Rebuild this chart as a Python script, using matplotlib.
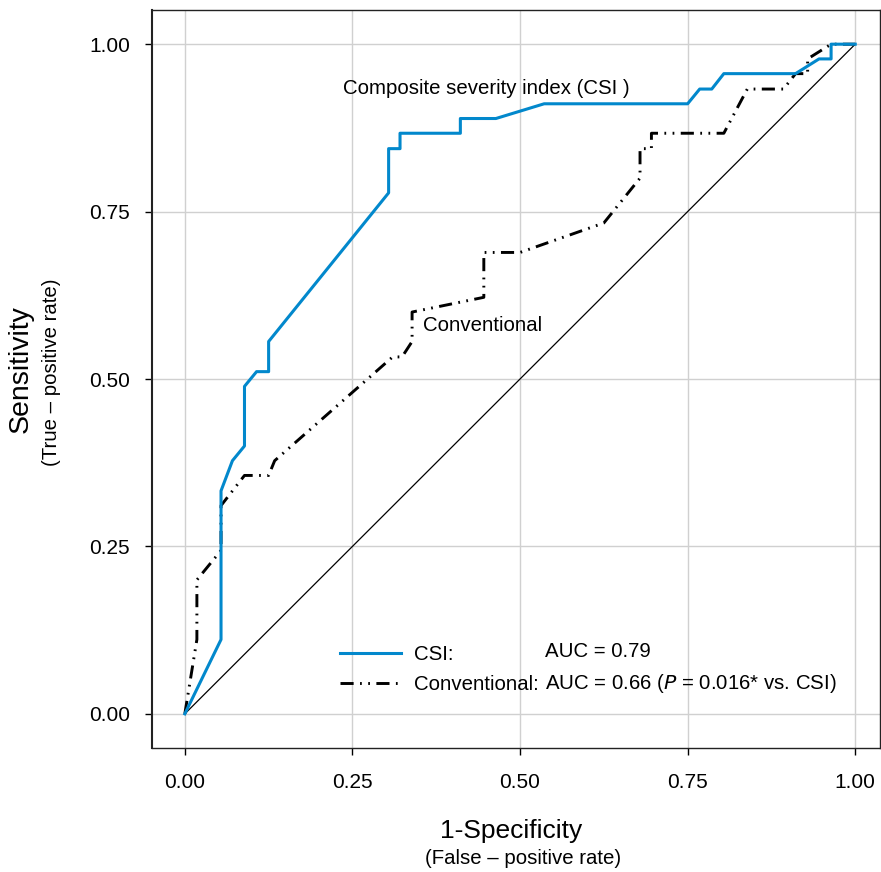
import matplotlib
matplotlib.use("Agg")
import matplotlib.pyplot as plt

plt.rcParams['font.family'] = ['Liberation Sans', 'DejaVu Sans']

# ROC data (1-specificity, sensitivity)
csi_fpr = [0.0, 0.054, 0.054, 0.071, 0.089, 0.089, 0.107, 0.125, 0.125, 0.304, 0.304,
           0.321, 0.321, 0.411, 0.411, 0.464, 0.536, 0.750, 0.768, 0.786, 0.804, 0.911,
           0.946, 0.964, 0.964, 1.0]
csi_tpr = [0.0, 0.111, 0.333, 0.378, 0.400, 0.489, 0.511, 0.511, 0.556, 0.778, 0.844,
           0.844, 0.867, 0.867, 0.889, 0.889, 0.911, 0.911, 0.933, 0.933, 0.956, 0.956,
           0.978, 0.978, 1.0, 1.0]

conv_fpr = [0.0, 0.018, 0.018, 0.054, 0.054, 0.089, 0.125, 0.134, 0.310, 0.324, 0.339,
            0.339, 0.446, 0.446, 0.500, 0.625, 0.679, 0.679, 0.696, 0.696, 0.804, 0.839,
            0.893, 0.911, 0.929, 0.929, 0.964, 1.0]
conv_tpr = [0.0, 0.111, 0.200, 0.244, 0.311, 0.356, 0.356, 0.378, 0.533, 0.533, 0.556,
            0.600, 0.622, 0.689, 0.689, 0.733, 0.800, 0.844, 0.844, 0.867, 0.867, 0.933,
            0.933, 0.956, 0.956, 0.978, 1.0, 1.0]

ticks = [0.0, 0.25, 0.5, 0.75, 1.0]
tick_labels = ['0.00', '0.25', '0.50', '0.75', '1.00']

fig = plt.figure(figsize=(8.81, 8.72), dpi=100)
ax = fig.add_axes([0.1725, 0.1422, 0.8264, 0.8463])

ax.plot([0, 1], [0, 1], color='black', lw=0.9)
ax.plot(conv_fpr, conv_tpr, color='black', lw=2.1,
        linestyle=(0, (4.5, 2.2, 0.6, 2.2, 0.6, 2.2)), label='Conventional:')
ax.plot(csi_fpr, csi_tpr, color='#0288cc', lw=2.2, label='CSI:')

ax.set_xlim(-0.049, 1.037)
ax.set_ylim(-0.051, 1.051)
ax.set_xticks(ticks)
ax.set_xticklabels(tick_labels)
ax.set_yticks(ticks)
ax.set_yticklabels(tick_labels)
ax.tick_params(labelsize=15, length=5, width=1, direction='out')
ax.tick_params(axis='x', pad=13)
ax.tick_params(axis='y', pad=11)
ax.grid(True, color='#d0d0d0', lw=1)
ax.set_axisbelow(True)
for s in ax.spines.values():
    s.set_linewidth(1)
    s.set_color('#222222')
ax.spines['left'].set_linewidth(1.5)

fs = 14.7
ax.text(0.236, 0.934, 'Composite severity index (CSI )', fontsize=fs, va='center')
ax.text(0.355, 0.58, 'Conventional', fontsize=fs, va='center')

handles, labels = ax.get_legend_handles_labels()
leg = ax.legend(handles[::-1], labels[::-1], loc='lower left', bbox_to_anchor=(0.258, 0.073),
                frameon=False, fontsize=fs, handlelength=3.0, handletextpad=0.62,
                labelspacing=0.53, borderaxespad=0, borderpad=0)
ax.text(0.537, 0.0925, 'AUC = 0.79', fontsize=fs, va='center')
ax.text(0.537, 0.045, 'AUC = 0.66 ($\\it{P}$ = 0.016* vs. CSI)', fontsize=fs, va='center')

fig.text(0.580, 0.047, '1-Specificity', fontsize=19, ha='center', va='center')
fig.text(0.594, 0.016, '(False \u2013 positive rate)', fontsize=fs, ha='center', va='center')
fig.text(0.024, 0.577, 'Sensitivity', fontsize=20.5, rotation=90, ha='center', va='center')
fig.text(0.059, 0.573, '(True \u2013 positive rate)', fontsize=fs, rotation=90, ha='center', va='center')

fig.savefig('out.png', dpi=100)
